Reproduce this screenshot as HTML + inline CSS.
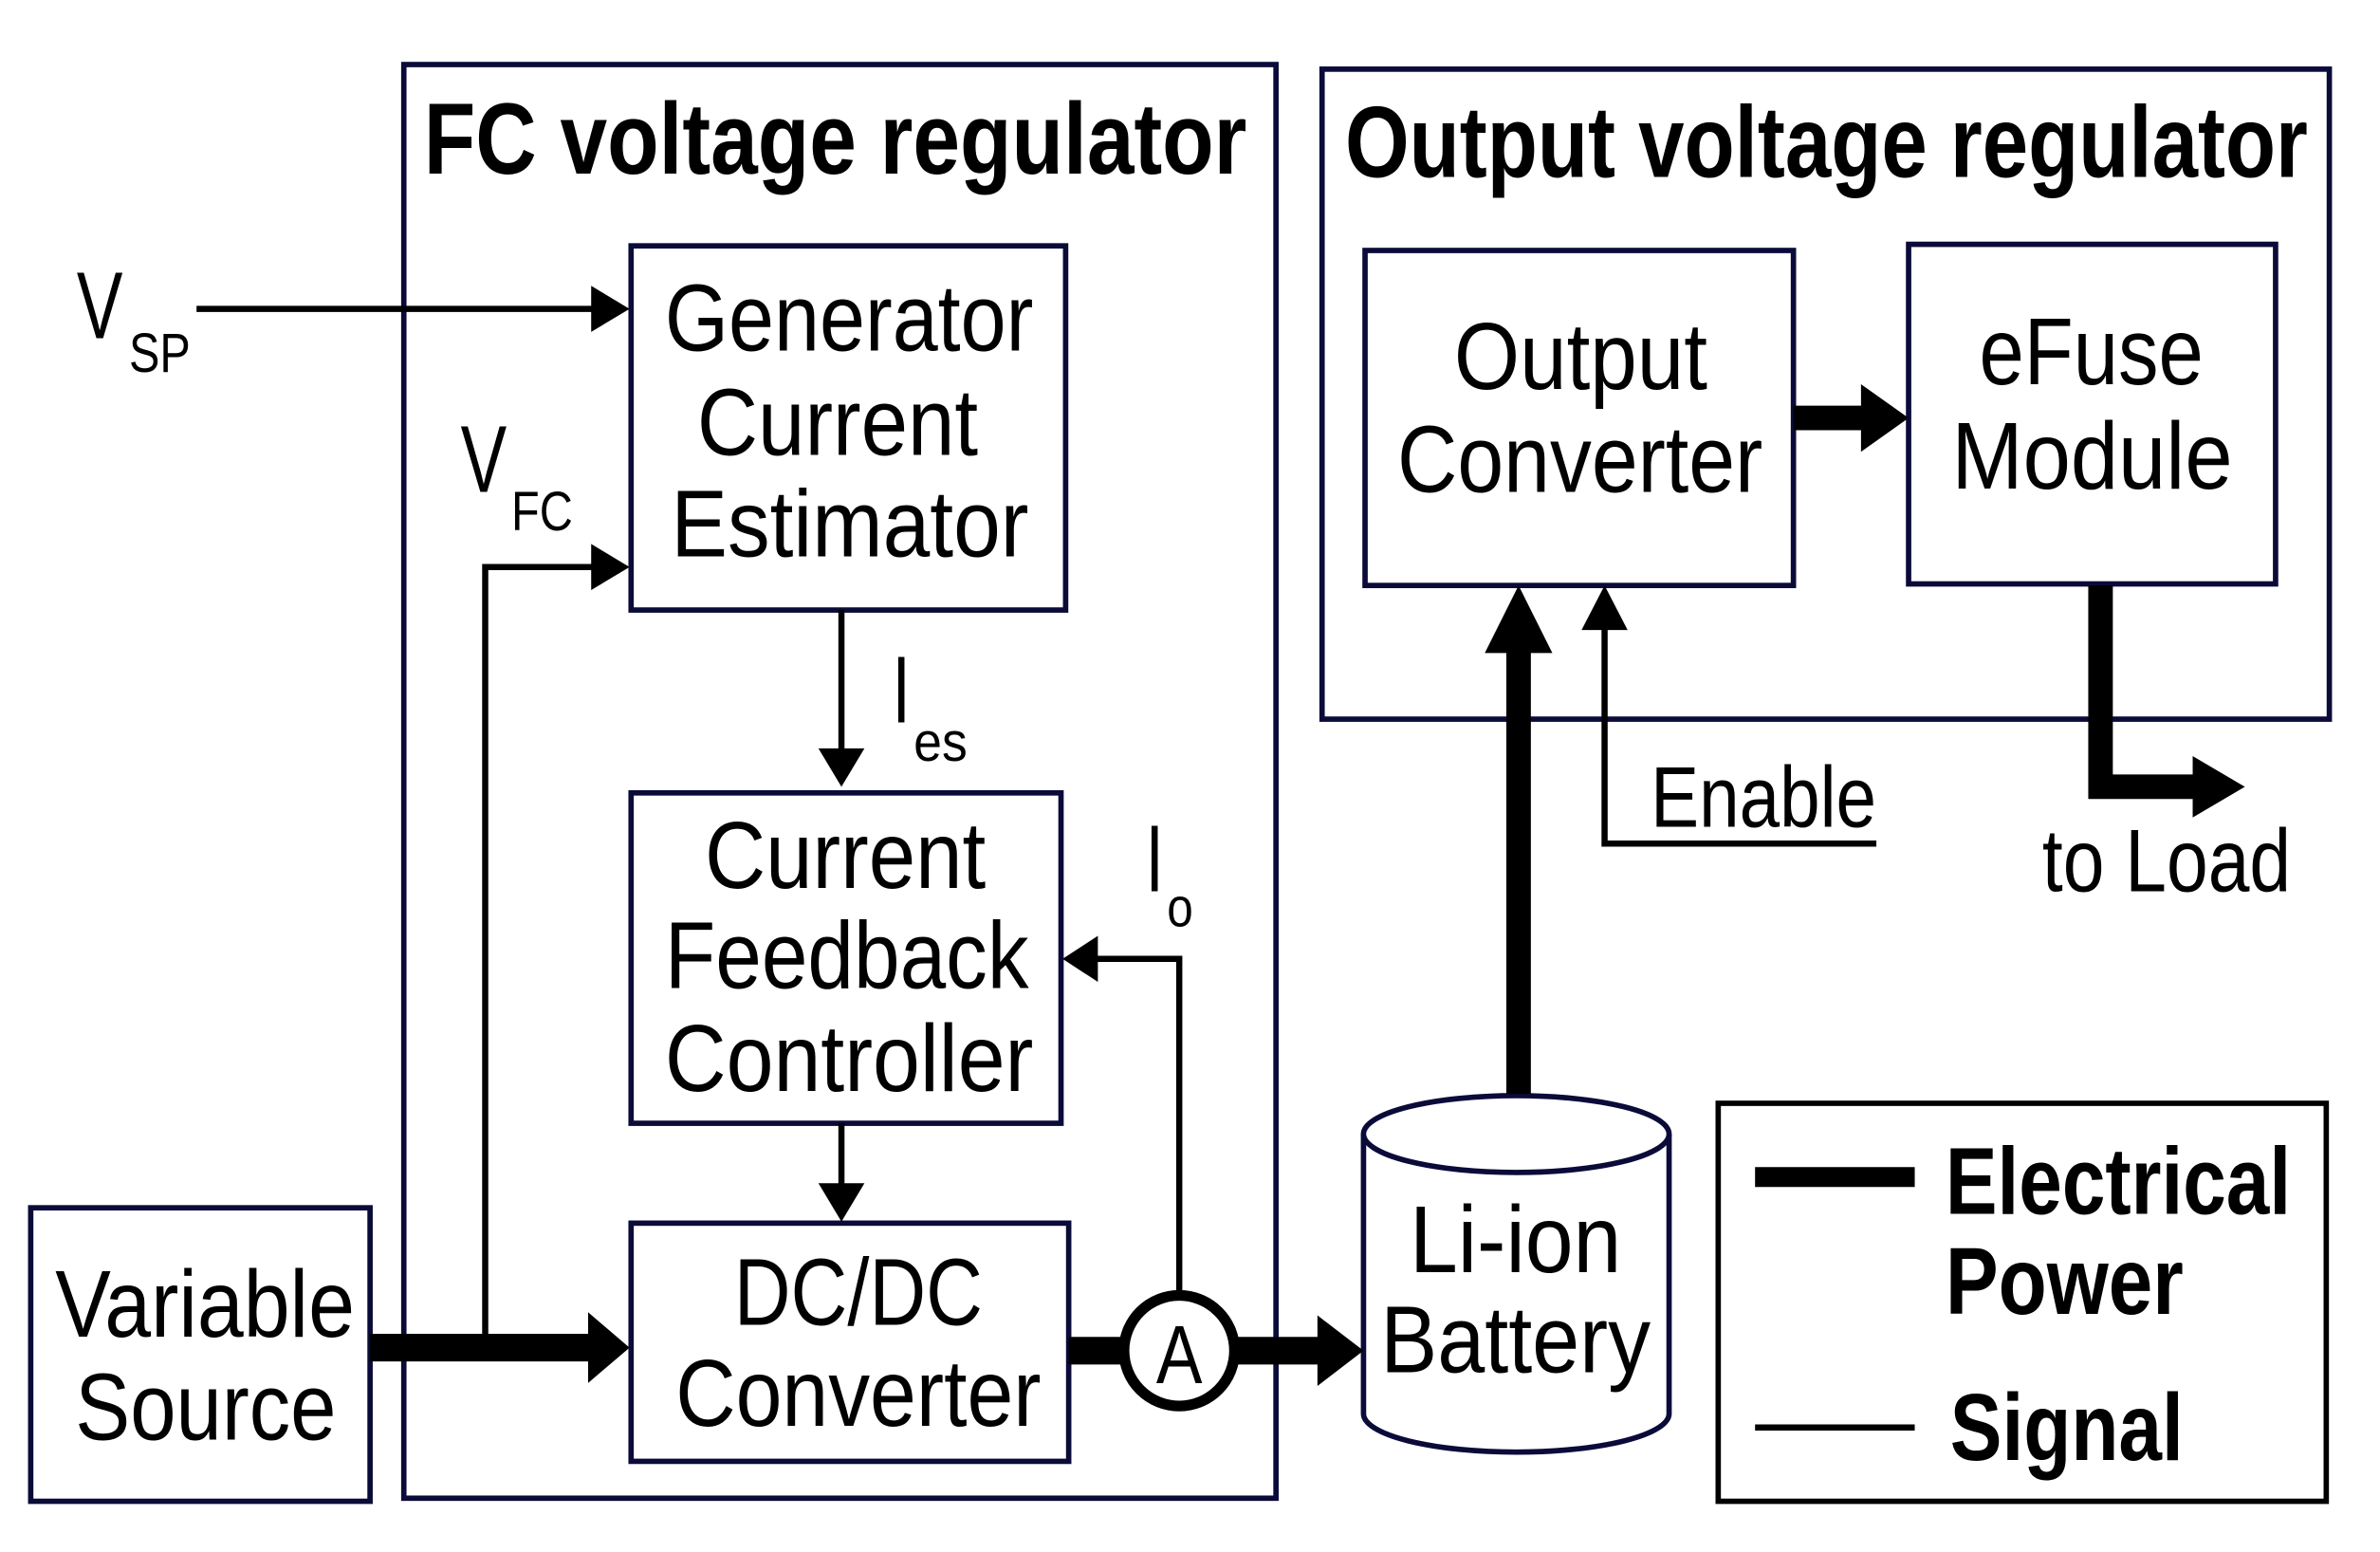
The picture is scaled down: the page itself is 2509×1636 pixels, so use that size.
<!DOCTYPE html>
<html><head><meta charset="utf-8"><style>
html,body{margin:0;padding:0;background:#fff;}
svg{display:block;}
text{font-family:"Liberation Sans",sans-serif;fill:#000;}
</style></head><body>
<svg width="2509" height="1636" viewBox="0 0 1550 1010" preserveAspectRatio="none" xmlns="http://www.w3.org/2000/svg">
<g fill="none" stroke="#0b0b3a" stroke-width="3.5">
<rect x="263" y="42" width="568" height="933"/>
<rect x="861" y="45" width="656" height="423"/>
<rect x="411" y="160" width="283" height="237"/>
<rect x="411" y="516" width="280" height="215"/>
<rect x="411" y="796" width="285" height="155"/>
<rect x="20" y="786" width="221" height="191"/>
<rect x="889" y="163" width="279" height="218"/>
<rect x="1243" y="159" width="239" height="221"/>
<path d="M888 738 V920 A99.5 25 0 0 0 1087 920 V738" fill="#fff"/>
<ellipse cx="987.5" cy="738" rx="99.5" ry="25" fill="#fff"/>
</g>
<rect x="1119" y="718" width="396" height="259" fill="none" stroke="#000" stroke-width="3.5"/>
<g stroke="#000" fill="none">
<path d="M128 201 H390" stroke-width="4"/>
<path d="M316 877 V369 H390" stroke-width="4"/>
<path d="M548 397 V490" stroke-width="4"/>
<path d="M548 731 V775" stroke-width="4"/>
<path d="M768 843 V624 H712" stroke-width="4"/>
<path d="M1045 549 V400 M1043 549 H1222" stroke-width="4"/>
<path d="M241 877 H385" stroke-width="18"/>
<path d="M696 879 H860" stroke-width="18"/>
<path d="M989 712 V420" stroke-width="16"/>
<path d="M1168 272 H1215" stroke-width="16"/>
<path d="M1368 381 V512 H1432" stroke-width="16"/>
<path d="M1143 766 H1247" stroke-width="13"/>
<path d="M1143 929 H1247" stroke-width="4"/>
</g>
<g fill="#000">
<polygon points="385,186 410,201 385,216"/>
<polygon points="385,354 410,369 385,384"/>
<polygon points="533,487 548,512 563,487"/>
<polygon points="533,770 548,795 563,770"/>
<polygon points="715,609 692,624 715,639"/>
<polygon points="1030,410 1045,381 1060,410"/>
<polygon points="383,854 410,877 383,900"/>
<polygon points="858,856 888,879 858,902"/>
<polygon points="967,425 989,381 1011,425"/>
<polygon points="1212,250 1243,272 1212,294"/>
<polygon points="1428,492 1462,512 1428,532"/>
</g>
<circle cx="768" cy="879" r="36" fill="#fff" stroke="#000" stroke-width="7"/>
<text x="768" y="900" font-size="54" text-anchor="middle" textLength="30" lengthAdjust="spacingAndGlyphs">A</text>
<g font-weight="bold">
<text x="276" y="113" font-size="66" textLength="536" lengthAdjust="spacingAndGlyphs">FC voltage regulator</text>
<text x="876" y="115" font-size="66" textLength="627" lengthAdjust="spacingAndGlyphs">Output voltage regulator</text>
<text x="1267" y="790" font-size="62" textLength="225" lengthAdjust="spacingAndGlyphs">Electrical</text>
<text x="1267" y="855" font-size="62" textLength="155" lengthAdjust="spacingAndGlyphs">Power</text>
<text x="1270" y="950" font-size="62" textLength="152" lengthAdjust="spacingAndGlyphs">Signal</text>
</g>
<g font-size="62">
<text x="50" y="220" textLength="30" lengthAdjust="spacingAndGlyphs">V</text>
<text x="84" y="242" font-size="36" textLength="40" lengthAdjust="spacingAndGlyphs">SP</text>
<text x="300" y="320" textLength="30" lengthAdjust="spacingAndGlyphs">V</text>
<text x="333" y="345" font-size="36" textLength="40" lengthAdjust="spacingAndGlyphs">FC</text>
<text x="581" y="470" textLength="12" lengthAdjust="spacingAndGlyphs">I</text>
<text x="595" y="495" font-size="36" textLength="35" lengthAdjust="spacingAndGlyphs">es</text>
<text x="746" y="580" textLength="12" lengthAdjust="spacingAndGlyphs">I</text>
<text x="760" y="603" font-size="36" textLength="17" lengthAdjust="spacingAndGlyphs">o</text>
<text x="433" y="228" textLength="240" lengthAdjust="spacingAndGlyphs">Generator</text>
<text x="454" y="296" textLength="183" lengthAdjust="spacingAndGlyphs">Current</text>
<text x="437" y="362" textLength="233" lengthAdjust="spacingAndGlyphs">Estimator</text>
<text x="459" y="578" textLength="183" lengthAdjust="spacingAndGlyphs">Current</text>
<text x="433" y="643" textLength="237" lengthAdjust="spacingAndGlyphs">Feedback</text>
<text x="433" y="710" textLength="240" lengthAdjust="spacingAndGlyphs">Controller</text>
<text x="478" y="862" textLength="162" lengthAdjust="spacingAndGlyphs">DC/DC</text>
<text x="440" y="928" textLength="238" lengthAdjust="spacingAndGlyphs">Converter</text>
<text x="36" y="870" textLength="195" lengthAdjust="spacingAndGlyphs">Variable</text>
<text x="49" y="937" textLength="170" lengthAdjust="spacingAndGlyphs">Source</text>
<text x="947" y="253" textLength="165" lengthAdjust="spacingAndGlyphs">Output</text>
<text x="910" y="320" textLength="238" lengthAdjust="spacingAndGlyphs">Converter</text>
<text x="1289" y="250" textLength="146" lengthAdjust="spacingAndGlyphs">eFuse</text>
<text x="1271" y="318" textLength="183" lengthAdjust="spacingAndGlyphs">Module</text>
<text x="1075" y="538" font-size="56" textLength="147" lengthAdjust="spacingAndGlyphs">Enable</text>
<text x="1330" y="580" font-size="58" textLength="162" lengthAdjust="spacingAndGlyphs">to Load</text>
<text x="918" y="828" textLength="138" lengthAdjust="spacingAndGlyphs">Li-ion</text>
<text x="899" y="893" textLength="176" lengthAdjust="spacingAndGlyphs">Battery</text>
</g>
</svg>
</body></html>
